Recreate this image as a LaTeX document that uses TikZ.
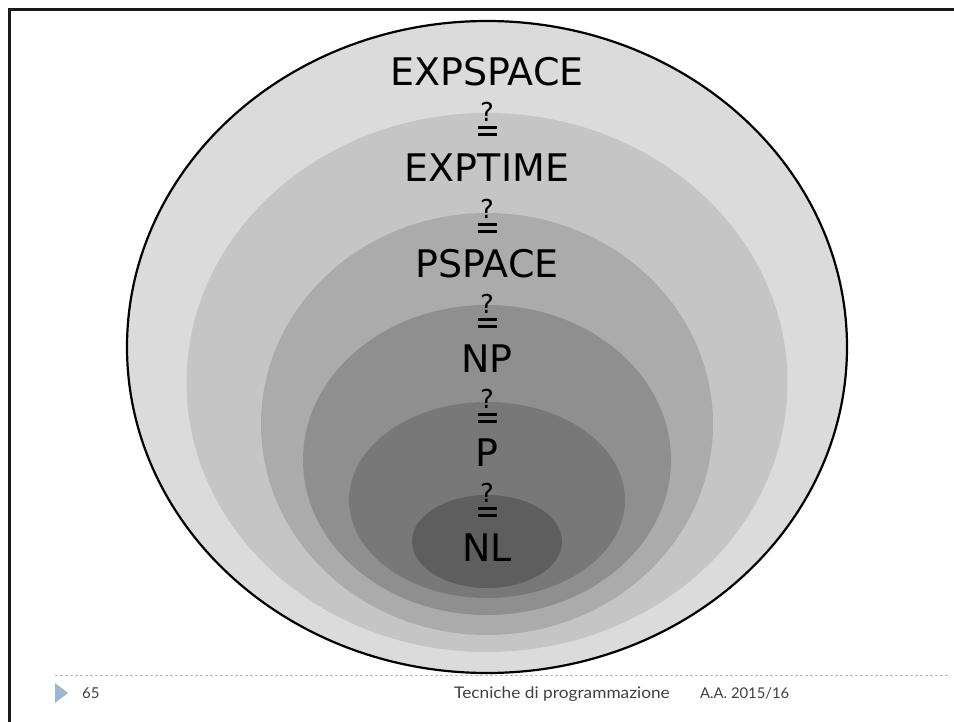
\documentclass[tikz,border=0pt]{standalone}
\usepackage{fontspec}
\setmainfont{DejaVu Sans}
\newfontfamily\footfont{Lato}
\newfontfamily\footwidefont[FakeStretch=1.08]{Lato}
% question mark set over an equals sign
\newcommand\qeqmark{\vbox{\offinterlineskip\halign{\hfil##\hfil\cr
  \fontsize{26}{26}\selectfont ?\cr
  \noalign{\kern4.5pt}
  \vrule width 19pt height 2.8pt depth 0pt\cr
  \noalign{\kern4.2pt}
  \vrule width 19pt height 2.8pt depth 0pt\cr}}}
\begin{document}
\begin{tikzpicture}[x=1pt,y=-1pt,
  classlabel/.style={inner sep=0pt, font=\fontsize{38}{38}\selectfont},
  qeq/.style={inner sep=0pt},
  footertext/.style={inner sep=0pt, anchor=base west, text=black!75, font=\footfont\fontsize{15}{15}\selectfont}]
\useasboundingbox (0,0) rectangle (954,722);
\fill[white] (0,0) rectangle (954,722);

% slide frame
\draw[line width=3pt, black!90] (9,725) -- (9,10) -- (957,10);

% nested complexity classes, outermost first
\fill[gray!28.6] (487,347) ellipse [x radius=360pt, y radius=326pt];
\fill[gray!45.5] (487,382.5) ellipse [x radius=300.5pt, y radius=269.5pt];
\fill[gray!66] (487,424) ellipse [x radius=226pt, y radius=211pt];
\fill[gray!88] (487,460) ellipse [x radius=184pt, y radius=155pt];
\fill[black!53] (487,500) ellipse [x radius=138pt, y radius=98pt];
\fill[black!63] (487,541.5) ellipse [x radius=75pt, y radius=46.5pt];
\draw[line width=2.2pt, black] (487,347) ellipse [x radius=360pt, y radius=326pt];

% class names and the open questions between them
\node[classlabel] (expspace) at (487,71.5) {EXPSPACE};
\node[qeq] (q1) at (487,119.5) {\qeqmark};
\node[classlabel] (exptime) at (487,167.5) {EXPTIME};
\node[qeq] (q2) at (487,216) {\qeqmark};
\node[classlabel] (pspace) at (487,263.5) {PSPACE};
\node[qeq] (q3) at (487,311) {\qeqmark};
\node[classlabel] (np) at (487,359) {NP};
\node[qeq] (q4) at (487,406) {\qeqmark};
\node[classlabel] (p) at (487,453) {P};
\node[qeq] (q5) at (487,500.5) {\qeqmark};
\node[classlabel] (nl) at (487,548) {NL};

% footer
\coordinate (rulestart) at (55,675);
\coordinate (ruleend) at (948,675);
\draw[line width=1pt, color={rgb,255:red,166;green,191;blue,216}, dash pattern=on 3pt off 2pt] (rulestart) -- (ruleend);
\fill[color={rgb,255:red,157;green,183;blue,208}] (55,683) -- (68,693) -- (55,703) -- cycle;
\node[footertext] (pagenum) at (82,698) {65};
\node[footertext, font=\footwidefont\fontsize{16}{16}\selectfont] (course) at (454,698) {Tecniche di programmazione};
\node[footertext, font=\footfont\fontsize{14.8}{14.8}\selectfont] (year) at (700,698) {A.A. 2015/16};
\end{tikzpicture}
\end{document}
